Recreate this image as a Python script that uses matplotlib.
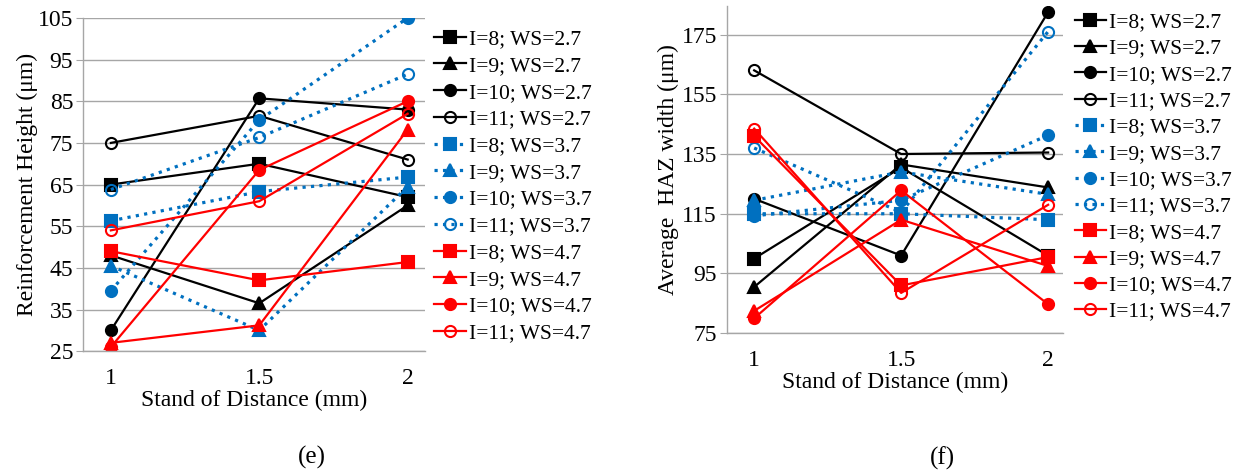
import matplotlib
matplotlib.use("Agg")
import matplotlib.pyplot as plt

plt.rcParams['font.family'] = ['Liberation Serif', 'DejaVu Serif']

# stand-off distance (mm)
sod = [1, 1.5, 2]

labels = ['I=8; WS=2.7', 'I=9; WS=2.7', 'I=10; WS=2.7', 'I=11; WS=2.7',
          'I=8; WS=3.7', 'I=9; WS=3.7', 'I=10; WS=3.7', 'I=11; WS=3.7',
          'I=8; WS=4.7', 'I=9; WS=4.7', 'I=10; WS=4.7', 'I=11; WS=4.7']

# reinforcement height (um), same order as labels
height = [
    [65, 70, 62],
    [48, 36.5, 60],
    [30, 85.7, 83],
    [75, 81.5, 71],
    [56.3, 63.3, 66.8],
    [45.5, 30, 64.5],
    [39.5, 80.5, 105],
    [63.8, 76.3, 91.5],
    [49, 42, 46.4],
    [27, 31.2, 78.2],
    [26, 68.5, 85],
    [54, 61, 82],
]

# average HAZ width (um)
haz = [
    [100, 130.5, 101],
    [90.5, 131.5, 123.8],
    [120, 101, 182.5],
    [163, 135, 135.5],
    [115, 115, 113],
    [119.5, 129, 121.5],
    [114.3, 119.5, 141.3],
    [137, 115.5, 176],
    [141, 91, 100.5],
    [82.5, 113, 97.5],
    [80, 122.8, 84.7],
    [143.5, 88.5, 118],
]

blue = '#0070C0'
red = '#FF0000'
colors = ['black'] * 4 + [blue] * 4 + [red] * 4
markers = ['s', '^', 'o', 'o'] * 3
filled = [True, True, True, False] * 3


def draw(ax, data):
    lines = []
    for i in range(12):
        ls = ':' if colors[i] == blue else '-'
        lw = 2.3 if colors[i] == blue else 1.6
        ms = 9 if markers[i] == '^' else 8
        fc = colors[i] if filled[i] else 'none'
        ln, = ax.plot(sod, data[i], linestyle=ls, linewidth=lw, color=colors[i],
                      marker=markers[i], markersize=ms, markerfacecolor=fc,
                      markeredgecolor=colors[i], markeredgewidth=1.5,
                      label=labels[i])
        lines.append(ln)
    ax.set_xticks(sod)
    ax.set_xticklabels(['1', '1.5', '2'])
    ax.grid(axis='y', color='#a6a6a6', linewidth=1.0)
    ax.set_axisbelow(True)
    for s in ['top', 'right']:
        ax.spines[s].set_visible(False)
    for s in ['left', 'bottom']:
        ax.spines[s].set_color('#a6a6a6')
        ax.spines[s].set_linewidth(1.0)
    ax.tick_params(axis='y', length=5, color='#a6a6a6', labelsize=17, pad=2)
    ax.tick_params(axis='x', length=0, labelsize=17, pad=12)
    ax.set_xlabel('Stand of Distance (mm)', fontsize=17, labelpad=1)
    return lines


fig = plt.figure(figsize=(12.57, 4.72), dpi=100)

# (e) reinforcement height
ax1 = fig.add_axes([0.066, 0.256, 0.272, 0.706])
h1 = draw(ax1, height)
ax1.set_xlim(0.906, 2.058)
ax1.set_ylim(25, 105)
ax1.set_yticks(range(25, 106, 10))
ax1.set_ylabel('Reinforcement Height (μm)', fontsize=17, labelpad=0)
fig.legend(handles=h1, loc='upper left', bbox_to_anchor=(0.337, 0.961),
           frameon=False, fontsize=15.5, labelspacing=0.31, handlelength=1.45,
           handletextpad=0.15, borderpad=0)

# (f) average HAZ width
ax2 = fig.add_axes([0.578, 0.294, 0.268, 0.693])
h2 = draw(ax2, haz)
ax2.set_xlim(0.906, 2.052)
ax2.set_ylim(75, 184.5)
ax2.set_yticks(range(75, 176, 20))
ax2.set_ylabel('Average  HAZ width (μm)', fontsize=17, labelpad=2)
fig.legend(handles=h2, loc='upper left', bbox_to_anchor=(0.8465, 0.997),
           frameon=False, fontsize=15.5, labelspacing=0.29, handlelength=1.45,
           handletextpad=0.15, borderpad=0)

fig.text(0.248, 0.03, '(e)', fontsize=18, ha='center', va='center')
fig.text(0.750, 0.03, '(f)', fontsize=18, ha='center', va='center')

fig.savefig('out.png', dpi=100)
